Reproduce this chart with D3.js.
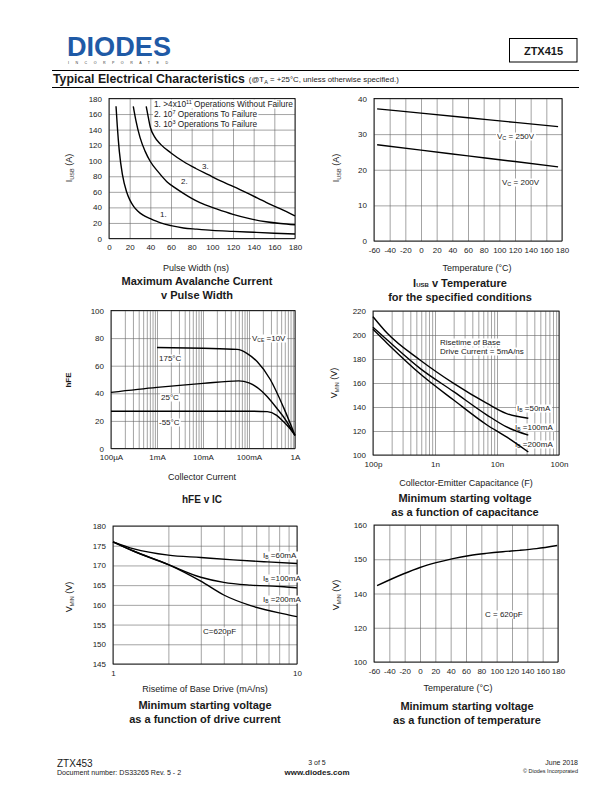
<!DOCTYPE html>
<html><head><meta charset="utf-8">
<script src="https://cdn.jsdelivr.net/npm/d3@7"></script>
<style>
body{margin:0;background:#fff;}
text{font-family:"Liberation Sans",Arial,sans-serif;fill:#1a1a1a;}
.tick text{font-size:8px;}
</style></head>
<body>
<script>
// ---------- DATA ----------
// Chart 1: Maximum Avalanche Current v Pulse Width
const pwTicks = [0,20,40,60,80,100,120,140,160,180];
const iusbTicks1 = [0,20,40,60,80,100,120,140,160,180];
const c1PW = [6.8,8,10,13,17,20,24,28,33,40,50,60,72,85,100,120,140,160,180];
const c1I  = [170,145,112,82,60,50,41,35,30,25.5,20,16.5,13.5,12,10.5,9.2,8,6.8,5.8];
const c2PW = [23.5,26,30,35,40,48,56,64,72,80,88,104,120,136,152,166,180];
const c2I  = [170,152,130,112,99,85,73,65,58,51.5,46,38,31,25.5,21.5,19.2,17.6];
const c3PW = [36,38,40,44,50,60,72,84,96,108,120,136,152,166,180];
const c3I  = [170,156,143,131,121,110,99,90,82,74,67,57,46.5,38,29];

// Chart 2: IUSB v Temperature
const tempTicks2 = [-60,-40,-20,0,20,40,60,80,100,120,140,160,180];
const iusbTicks2 = [0,10,20,30,40];
const temp2 = [-56,0,60,120,175];
const i250V = [37.1,35.9,34.6,33.3,32.1];
const i200V = [27.0,25.5,23.9,22.3,20.8];

// Chart 3: hFE v IC
const icTicks = [1e-4,1e-3,1e-2,1e-1,1];
const icLabels = ["100\u00b5A","1mA","10mA","100mA","1A"];
const hfeTicks = [0,20,40,60,80,100];
const ic175 = [0.001,0.01,0.055,0.09,0.15,0.29,0.56,1.0];
const hfe175 = [73.2,72.6,71.8,69,63,50,30,9.5];
const ic25 = [0.0001,0.001,0.01,0.06,0.1,0.19,0.25,0.44,0.56,1.0];
const hfe25 = [40.7,44.3,47.2,49,47.5,41.5,37.5,27.5,23,9.5];
const icm55 = [0.0001,0.1,0.25,0.4,0.56,0.75,1.0];
const hfem55 = [27,27,26.7,24,19.5,15,9.5];

// Chart 4: VMIN v capacitance
const capTicks = [1e-10,1e-9,1e-8,1e-7];
const capLabels = ["100p","1n","10n","100n"];
const vminTicks4 = [100,120,140,160,180,200,220];
const capX = [1e-10,1.7e-10,5.8e-10,2e-9,6.9e-9,1.4e-8,3.2e-8];
const v50mA = [215.3,201.4,179,159.7,143,134.7,130.6];
const v100mA = [206.4,195.8,172,152.8,133.3,123.6,116.5];
const v200mA = [204.7,193,167.5,145.8,125,115.3,102.5];

// Chart 5: VMIN v drive
const driveTicks = [1,10];
const vminTicks5 = [145,150,155,160,165,170,175,180];
const drive60 = [1,1.3,2,3,4.5,6.9,10];
const v60mA5 = [176,174.2,172.6,172.0,171.4,170.9,170.5];
const driveB = [1,1.3,2,3,4,5.6,8.5,10];
const v100mA5 = [176,173.6,170.2,167.0,165.7,165.0,164.6,164.3];
const v200mA5 = [176,173.6,170.2,166.0,162.5,159.8,157.7,157.0];

// Chart 6: VMIN v temperature
const tempTicks6 = [-60,-40,-20,0,20,40,60,80,100,120,140,160,180];
const vminTicks6 = [100,120,140,150,160];
const temp6 = [-56,-22,0,21,43,65,86,108,130,152,179];
const vmin6 = [142.3,145.7,147.6,149.0,150.2,151.1,151.7,152.2,152.6,153.1,154.0];

// ---------- DRAW ----------
const svg = d3.select("body").append("svg").attr("width",612).attr("height",792);
svg.append("rect").attr("width",612).attr("height",792).attr("fill","#fff");

function logGrid(lo, hi){
  const out=[];
  for(let e=Math.round(Math.log10(lo)); e<Math.round(Math.log10(hi)); e++){
    for(let m=1;m<=9;m++){ out.push(m*Math.pow(10,e)); }
  }
  out.push(hi);
  return out;
}

function panel(p){
  const g = svg.append("g");
  const x = p.xLog ? d3.scaleLog().domain(p.xDomain).range([p.left,p.right])
                   : d3.scaleLinear().domain(p.xDomain).range([p.left,p.right]);
  const y = d3.scaleLinear().domain(p.yDomain).range(p.yRange || [p.bottom,p.top]);
  const h = p.bottom - p.top, w = p.right - p.left;
  const vg = g.append("g").attr("transform",`translate(0,${p.bottom})`)
    .call(d3.axisBottom(x).tickValues(p.xGrid).tickSize(-h).tickFormat(""));
  vg.select(".domain").remove();
  vg.selectAll("line").attr("stroke","#666").attr("stroke-width",0.6);
  const hg = g.append("g").attr("transform",`translate(${p.left},0)`)
    .call(d3.axisLeft(y).tickValues(p.yGrid).tickSize(-w).tickFormat(""));
  hg.select(".domain").remove();
  hg.selectAll("line").attr("stroke","#666").attr("stroke-width",0.6);
  g.append("rect").attr("x",p.left).attr("y",p.top).attr("width",w).attr("height",h)
    .attr("fill","none").attr("stroke","#111").attr("stroke-width",0.9);
  const xa = g.append("g").attr("transform",`translate(0,${p.bottom})`)
    .call(d3.axisBottom(x).tickValues(p.xTicks).tickSize(0).tickPadding(p.xPad||6)
      .tickFormat((d,i)=> p.xLabels ? p.xLabels[i] : d));
  xa.select(".domain").remove();
  const ya = g.append("g").attr("transform",`translate(${p.left},0)`)
    .call(d3.axisLeft(y).tickValues(p.yTicks).tickSize(0).tickPadding(p.yPad||7)
      .tickFormat((d,i)=> p.yLabels ? p.yLabels[i] : d));
  ya.select(".domain").remove();
  g.selectAll(".tick text").attr("font-family","Liberation Sans, Arial, sans-serif").attr("font-size",8).attr("fill","#1a1a1a");
  return {g,x,y};
}

function curve(pn, xs, ys){
  const line = d3.line().x(d=>pn.x(d[0])).y(d=>pn.y(d[1])).curve(d3.curveMonotoneX);
  pn.g.append("path").attr("class","curve").datum(xs.map((v,i)=>[v,ys[i]])).attr("d",line)
    .attr("fill","none").attr("stroke","#000").attr("stroke-width",1.4);
}

function label(g, x, y, parts, opts={}){
  const t = g.append("text").attr("x",x).attr("y",y).attr("font-size",opts.size||8)
    .attr("text-anchor",opts.anchor||"start");
  if(opts.bold) t.attr("font-weight","bold");
  parts.forEach(pt=>{
    if(typeof pt==="string"){ t.append("tspan").text(pt); }
    else { t.append("tspan").attr("font-size",pt.size||5).attr("dy",pt.dy).text(pt.t); }
  });
  if(opts.bg){
    const b = t.node().getBBox();
    g.insert("rect", ()=>t.node()).attr("x",b.x-1).attr("y",b.y+0.5).attr("width",b.width+2).attr("height",b.height-1).attr("fill","#fff");
  }
  return t;
}

function ytitle(cx, cy, parts, opts={}){
  const g = svg.append("g").attr("transform",`translate(${cx},${cy}) rotate(-90)`);
  label(g,0,0,parts,{anchor:"middle",size:opts.size||9,bold:opts.bold});
}

// ---- Header ----
svg.append("text").attr("x",67).attr("y",55.5).attr("font-size",27).attr("font-weight",900)
  .attr("font-family","DejaVu Sans").style("fill","#1f5aa6").attr("textLength",104)
  .attr("lengthAdjust","spacingAndGlyphs").text("DIODES");
svg.append("text").attr("x",68).attr("y",63.5).attr("font-size",3.6).attr("textLength",100)
  .attr("lengthAdjust","spacing").style("fill","#333").text("INCORPORATED");
svg.append("rect").attr("x",509.5).attr("y",38.5).attr("width",67.5).attr("height",23.5)
  .attr("fill","none").attr("stroke","#000").attr("stroke-width",1);
svg.append("text").attr("x",543.5).attr("y",54.5).attr("text-anchor","middle").attr("font-size",11)
  .attr("font-weight","bold").text("ZTX415");
svg.append("line").attr("x1",52).attr("x2",579).attr("y1",70.5).attr("y2",70.5).attr("stroke","#000").attr("stroke-width",1);
svg.append("line").attr("x1",52).attr("x2",579).attr("y1",87.5).attr("y2",87.5).attr("stroke","#000").attr("stroke-width",1);
const hdr = svg.append("text").attr("x",53).attr("y",83).attr("font-size",12.3).attr("font-weight","bold")
  .text("Typical Electrical Characteristics");
const hdrEnd = 53 + hdr.node().getComputedTextLength();
label(svg,hdrEnd+4,82,["(@T",{t:"A",size:5.5,dy:1.5},{t:" = +25\u00b0C, unless otherwise specified.)",size:7.8,dy:-1.5}],{size:7.8});

// ---- Chart 1 ----
const p1 = panel({left:109,right:295,top:98.5,bottom:238.5,xDomain:[0,180],yDomain:[0,180],
  xGrid:pwTicks,yGrid:iusbTicks1,xTicks:pwTicks,yTicks:iusbTicks1});
label(p1.g,154,107,["1. >4x10",{t:"11",size:5.5,dy:-3},{t:" Operations Without Failure",size:8.3,dy:3}],{bg:true,size:8.3});
label(p1.g,154,117,["2. 10",{t:"7",size:5.5,dy:-3},{t:" Operations To Failure",size:8.3,dy:3}],{bg:true,size:8.3});
label(p1.g,154,127,["3. 10",{t:"3",size:5.5,dy:-3},{t:" Operations To Failure",size:8.3,dy:3}],{bg:true,size:8.3});
label(p1.g,160,217,["1."],{bg:true});
label(p1.g,181,184,["2."],{bg:true});
label(p1.g,202,169,["3."],{bg:true});
curve(p1,c1PW,c1I); curve(p1,c2PW,c2I); curve(p1,c3PW,c3I);
ytitle(72,168,["I",{t:"USB",size:5.5,dy:2},{t:" (A)",size:9,dy:-2}]);
label(svg,196,271,["Pulse Width (ns)"],{anchor:"middle",size:9});
label(svg,197,285,["Maximum Avalanche Current"],{anchor:"middle",size:11,bold:true});
label(svg,197,299,["v Pulse Width"],{anchor:"middle",size:11,bold:true});

// ---- Chart 2 ----
const p2 = panel({left:374,right:562,top:98.5,bottom:241,xDomain:[-60,180],yDomain:[0,40],
  xGrid:tempTicks2,yGrid:iusbTicks2,xTicks:tempTicks2,yTicks:iusbTicks2});
label(p2.g,497,139,["V",{t:"C",size:5.5,dy:1},{t:"  = 250V",size:8,dy:-1}],{bg:true});
label(p2.g,502,185,["V",{t:"C",size:5.5,dy:1},{t:"  = 200V",size:8,dy:-1}],{bg:true});
curve(p2,temp2,i250V); curve(p2,temp2,i200V);
ytitle(339,168,["I",{t:"USB",size:5.5,dy:2},{t:" (A)",size:9,dy:-2}]);
label(svg,477,271,["Temperature (\u00b0C)"],{anchor:"middle",size:9});
label(svg,460,287,["I",{t:"USB",size:6,dy:0},{t:"  v Temperature",size:11,dy:0}],{anchor:"middle",size:11,bold:true});
label(svg,460,301,["for the specified conditions"],{anchor:"middle",size:11,bold:true});

// ---- Chart 3 ----
const p3 = panel({left:111,right:295,top:310.5,bottom:448.5,xLog:true,xDomain:[1e-4,1],yDomain:[0,100],
  xGrid:logGrid(1e-4,1),yGrid:hfeTicks,xTicks:icTicks,xLabels:icLabels,yTicks:hfeTicks});
label(p3.g,252,341,["V",{t:"CE",size:5,dy:1},{t:" =10V",size:8,dy:-1}],{bg:true});
label(p3.g,159,361,["175\u00b0C"],{bg:true});
label(p3.g,161,400,["25\u00b0C"],{bg:true});
label(p3.g,159,425,["-55\u00b0C"],{bg:true});
curve(p3,ic175,hfe175); curve(p3,ic25,hfe25); curve(p3,icm55,hfem55);
ytitle(71,380,["hFE"],{size:8,bold:true});
label(svg,202,480,["Collector Current"],{anchor:"middle",size:9});
label(svg,202,503,["hFE v IC"],{anchor:"middle",size:10,bold:true});

// ---- Chart 4 ----
const p4 = panel({left:373,right:559,top:311,bottom:455,xLog:true,xDomain:[1e-10,1e-7],yDomain:[100,220],
  xGrid:logGrid(1e-10,1e-7),yGrid:vminTicks4,xTicks:capTicks,xLabels:capLabels,yTicks:vminTicks4});
label(p4.g,440,345,["Risetime of Base"],{bg:true});
label(p4.g,440,354,["Drive Current = 5mA/ns"],{bg:true});
label(p4.g,517,411,["I",{t:"B",size:5,dy:1},{t:" =50mA",size:8,dy:-1}],{bg:true});
label(p4.g,515,430,["I",{t:"B",size:5,dy:1},{t:" =100mA",size:8,dy:-1}],{bg:true});
label(p4.g,515,447,["I",{t:"B",size:5,dy:1},{t:" =200mA",size:8,dy:-1}],{bg:true});
curve(p4,capX,v50mA); curve(p4,capX,v100mA); curve(p4,capX,v200mA);
ytitle(337,383,["V",{t:"MIN",size:5.5,dy:2},{t:" (V)",size:9,dy:-2}]);
label(svg,466,486,["Collector-Emitter Capacitance (F)"],{anchor:"middle",size:9});
label(svg,465,502,["Minimum starting voltage"],{anchor:"middle",size:11,bold:true});
label(svg,465,516,["as a function of capacitance"],{anchor:"middle",size:11,bold:true});

// ---- Chart 5 ----
const p5 = panel({left:113,right:297,top:526,bottom:664,xLog:true,xDomain:[1,10],yDomain:[145,180],
  xGrid:logGrid(1,10),yGrid:vminTicks5,xTicks:driveTicks,yTicks:vminTicks5});
label(p5.g,263,558,["I",{t:"B",size:5,dy:1},{t:" =60mA",size:8,dy:-1}],{bg:true});
label(p5.g,263,581,["I",{t:"B",size:5,dy:1},{t:" =100mA",size:8,dy:-1}],{bg:true});
label(p5.g,263,602,["I",{t:"B",size:5,dy:1},{t:" =200mA",size:8,dy:-1}],{bg:true});
label(p5.g,203,634,["C=620pF"],{bg:true});
curve(p5,drive60,v60mA5); curve(p5,driveB,v100mA5); curve(p5,driveB,v200mA5);
ytitle(72,597,["V",{t:"MIN",size:5.5,dy:2},{t:" (V)",size:9,dy:-2}]);
label(svg,205,692,["Risetime of Base Drive (mA/ns)"],{anchor:"middle",size:9});
label(svg,205,709,["Minimum starting voltage"],{anchor:"middle",size:11,bold:true});
label(svg,205,723,["as a function of drive current"],{anchor:"middle",size:11,bold:true});

// ---- Chart 6 ----
const p6 = panel({left:374,right:558,top:525,bottom:662,xDomain:[-60,180],yDomain:vminTicks6,
  yRange:[662,627.75,593.5,559.25,525],
  xGrid:tempTicks6,yGrid:vminTicks6,xTicks:tempTicks6,yTicks:vminTicks6});
label(p6.g,485,617,["C = 620pF"],{bg:true});
curve(p6,temp6,vmin6);
ytitle(339,595,["V",{t:"MIN",size:5.5,dy:2},{t:" (V)",size:9,dy:-2}]);
label(svg,458,691,["Temperature (\u00b0C)"],{anchor:"middle",size:9});
label(svg,467,710,["Minimum starting voltage"],{anchor:"middle",size:11,bold:true});
label(svg,467,724,["as a function of temperature"],{anchor:"middle",size:11,bold:true});

// ---- Footer ----
label(svg,57,767,["ZTX453"],{size:10});
label(svg,57,775,["Document number: DS33265  Rev. 5 - 2"],{size:7.1});
label(svg,317,765,["3 of 5"],{anchor:"middle",size:7});
label(svg,317,775,["www.diodes.com"],{anchor:"middle",size:8,bold:true});
label(svg,578,765,["June 2018"],{anchor:"end",size:7});
label(svg,578,773,["\u00a9 Diodes Incorporated"],{anchor:"end",size:5.5});
</script>
</body></html>
